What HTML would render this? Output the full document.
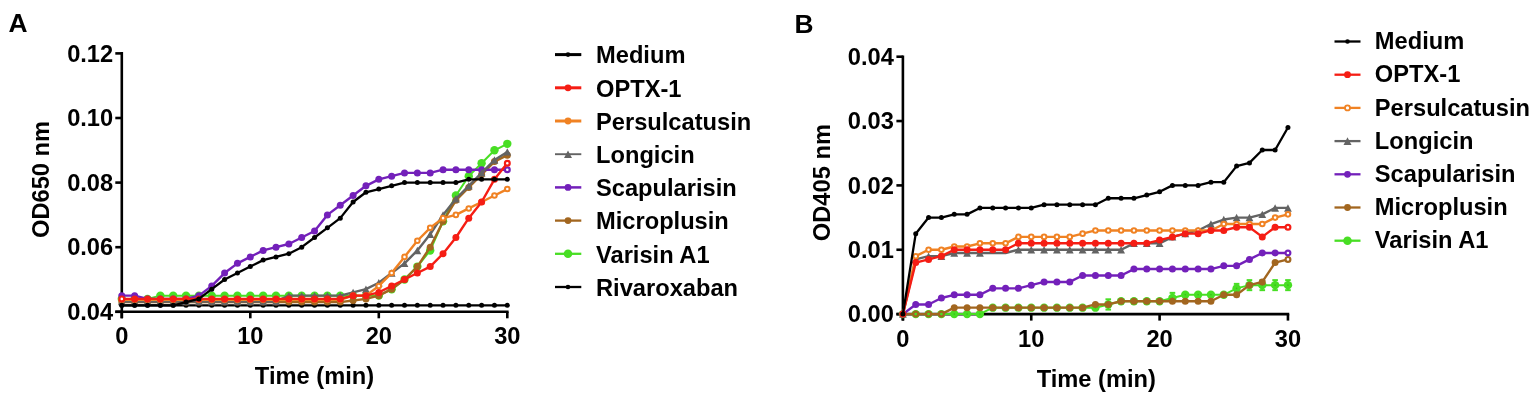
<!DOCTYPE html>
<html lang="en"><head><meta charset="utf-8"><title>Figure</title>
<style>html,body{margin:0;padding:0;background:#fff}svg{display:block}</style></head>
<body>
<svg width="1535" height="396" viewBox="0 0 1535 396" font-family='"Liberation Sans", sans-serif' font-weight="bold" fill="#000">
<rect width="1535" height="396" fill="#fff"/>
<text transform="translate(8.50,32.30) scale(1.03,1)" text-anchor="start" font-size="25.6" >A</text>
<text transform="translate(794.60,32.60) scale(1.03,1)" text-anchor="start" font-size="25.6" >B</text>
<line x1="121.80" y1="52.10" x2="121.80" y2="318.30" stroke="#000" stroke-width="2.6" stroke-linecap="butt"/>
<line x1="115.30" y1="311.80" x2="508.60" y2="311.80" stroke="#000" stroke-width="2.6" stroke-linecap="butt"/>
<line x1="115.30" y1="311.80" x2="121.80" y2="311.80" stroke="#000" stroke-width="2.6" stroke-linecap="butt"/>
<text transform="translate(113.20,320.00) scale(1.03,1)" text-anchor="end" font-size="23" >0.04</text>
<line x1="115.30" y1="247.20" x2="121.80" y2="247.20" stroke="#000" stroke-width="2.6" stroke-linecap="butt"/>
<text transform="translate(113.20,255.40) scale(1.03,1)" text-anchor="end" font-size="23" >0.06</text>
<line x1="115.30" y1="182.60" x2="121.80" y2="182.60" stroke="#000" stroke-width="2.6" stroke-linecap="butt"/>
<text transform="translate(113.20,190.80) scale(1.03,1)" text-anchor="end" font-size="23" >0.08</text>
<line x1="115.30" y1="118.00" x2="121.80" y2="118.00" stroke="#000" stroke-width="2.6" stroke-linecap="butt"/>
<text transform="translate(113.20,126.20) scale(1.03,1)" text-anchor="end" font-size="23" >0.10</text>
<line x1="115.30" y1="53.40" x2="121.80" y2="53.40" stroke="#000" stroke-width="2.6" stroke-linecap="butt"/>
<text transform="translate(113.20,61.60) scale(1.03,1)" text-anchor="end" font-size="23" >0.12</text>
<line x1="121.80" y1="311.80" x2="121.80" y2="318.30" stroke="#000" stroke-width="2.6" stroke-linecap="butt"/>
<text transform="translate(121.80,344.00) scale(1.03,1)" text-anchor="middle" font-size="23" >0</text>
<line x1="250.30" y1="311.80" x2="250.30" y2="318.30" stroke="#000" stroke-width="2.6" stroke-linecap="butt"/>
<text transform="translate(250.30,344.00) scale(1.03,1)" text-anchor="middle" font-size="23" >10</text>
<line x1="378.80" y1="311.80" x2="378.80" y2="318.30" stroke="#000" stroke-width="2.6" stroke-linecap="butt"/>
<text transform="translate(378.80,344.00) scale(1.03,1)" text-anchor="middle" font-size="23" >20</text>
<line x1="507.30" y1="311.80" x2="507.30" y2="318.30" stroke="#000" stroke-width="2.6" stroke-linecap="butt"/>
<text transform="translate(507.30,344.00) scale(1.03,1)" text-anchor="middle" font-size="23" >30</text>
<text transform="translate(314.50,383.60) scale(1.03,1)" text-anchor="middle" font-size="23" >Time (min)</text>
<text transform="translate(49.00,179.50) rotate(-90) scale(1.03,1)" text-anchor="middle" font-size="23">OD650 nm</text>
<polyline points="121.80,305.34 134.65,305.34 147.50,305.34 160.35,305.34 173.20,305.34 186.05,305.34 198.90,305.34 211.75,305.34 224.60,305.34 237.45,305.34 250.30,305.34 263.15,305.34 276.00,305.34 288.85,305.34 301.70,305.34 314.55,305.34 327.40,305.34 340.25,305.34 353.10,305.34 365.95,305.34 378.80,305.34 391.65,305.34 404.50,305.34 417.35,305.34 430.20,305.34 443.05,305.34 455.90,305.34 468.75,305.34 481.60,305.34 494.45,305.34 507.30,305.34" fill="none" stroke="#000000" stroke-width="2.3" stroke-linejoin="round" stroke-linecap="round"/>
<circle cx="121.80" cy="305.34" r="2.5" fill="#000000"/>
<circle cx="134.65" cy="305.34" r="2.5" fill="#000000"/>
<circle cx="147.50" cy="305.34" r="2.5" fill="#000000"/>
<circle cx="160.35" cy="305.34" r="2.5" fill="#000000"/>
<circle cx="173.20" cy="305.34" r="2.5" fill="#000000"/>
<circle cx="186.05" cy="305.34" r="2.5" fill="#000000"/>
<circle cx="198.90" cy="305.34" r="2.5" fill="#000000"/>
<circle cx="211.75" cy="305.34" r="2.5" fill="#000000"/>
<circle cx="224.60" cy="305.34" r="2.5" fill="#000000"/>
<circle cx="237.45" cy="305.34" r="2.5" fill="#000000"/>
<circle cx="250.30" cy="305.34" r="2.5" fill="#000000"/>
<circle cx="263.15" cy="305.34" r="2.5" fill="#000000"/>
<circle cx="276.00" cy="305.34" r="2.5" fill="#000000"/>
<circle cx="288.85" cy="305.34" r="2.5" fill="#000000"/>
<circle cx="301.70" cy="305.34" r="2.5" fill="#000000"/>
<circle cx="314.55" cy="305.34" r="2.5" fill="#000000"/>
<circle cx="327.40" cy="305.34" r="2.5" fill="#000000"/>
<circle cx="340.25" cy="305.34" r="2.5" fill="#000000"/>
<circle cx="353.10" cy="305.34" r="2.5" fill="#000000"/>
<circle cx="365.95" cy="305.34" r="2.5" fill="#000000"/>
<circle cx="378.80" cy="305.34" r="2.5" fill="#000000"/>
<circle cx="391.65" cy="305.34" r="2.5" fill="#000000"/>
<circle cx="404.50" cy="305.34" r="2.5" fill="#000000"/>
<circle cx="417.35" cy="305.34" r="2.5" fill="#000000"/>
<circle cx="430.20" cy="305.34" r="2.5" fill="#000000"/>
<circle cx="443.05" cy="305.34" r="2.5" fill="#000000"/>
<circle cx="455.90" cy="305.34" r="2.5" fill="#000000"/>
<circle cx="468.75" cy="305.34" r="2.5" fill="#000000"/>
<circle cx="481.60" cy="305.34" r="2.5" fill="#000000"/>
<circle cx="494.45" cy="305.34" r="2.5" fill="#000000"/>
<circle cx="507.30" cy="305.34" r="2.5" fill="#000000"/>
<polyline points="121.80,298.88 134.65,298.88 147.50,298.88 160.35,295.65 173.20,295.65 186.05,295.65 198.90,295.65 211.75,295.65 224.60,295.65 237.45,295.65 250.30,295.65 263.15,295.65 276.00,295.65 288.85,295.65 301.70,295.65 314.55,295.65 327.40,295.65 340.25,295.65 353.10,295.65 365.95,295.65 378.80,295.65 391.65,289.19 404.50,279.50 417.35,266.58 430.20,250.43 443.05,221.36 455.90,195.52 468.75,176.14 481.60,163.22 494.45,150.30 507.30,143.84" fill="none" stroke="#48de24" stroke-width="2.0" stroke-linejoin="round" stroke-linecap="round"/>
<circle cx="121.80" cy="298.88" r="4.2" fill="#48de24"/>
<circle cx="134.65" cy="298.88" r="4.2" fill="#48de24"/>
<circle cx="147.50" cy="298.88" r="4.2" fill="#48de24"/>
<circle cx="160.35" cy="295.65" r="4.2" fill="#48de24"/>
<circle cx="173.20" cy="295.65" r="4.2" fill="#48de24"/>
<circle cx="186.05" cy="295.65" r="4.2" fill="#48de24"/>
<circle cx="198.90" cy="295.65" r="4.2" fill="#48de24"/>
<circle cx="211.75" cy="295.65" r="4.2" fill="#48de24"/>
<circle cx="224.60" cy="295.65" r="4.2" fill="#48de24"/>
<circle cx="237.45" cy="295.65" r="4.2" fill="#48de24"/>
<circle cx="250.30" cy="295.65" r="4.2" fill="#48de24"/>
<circle cx="263.15" cy="295.65" r="4.2" fill="#48de24"/>
<circle cx="276.00" cy="295.65" r="4.2" fill="#48de24"/>
<circle cx="288.85" cy="295.65" r="4.2" fill="#48de24"/>
<circle cx="301.70" cy="295.65" r="4.2" fill="#48de24"/>
<circle cx="314.55" cy="295.65" r="4.2" fill="#48de24"/>
<circle cx="327.40" cy="295.65" r="4.2" fill="#48de24"/>
<circle cx="340.25" cy="295.65" r="4.2" fill="#48de24"/>
<circle cx="353.10" cy="295.65" r="4.2" fill="#48de24"/>
<circle cx="365.95" cy="295.65" r="4.2" fill="#48de24"/>
<circle cx="378.80" cy="295.65" r="4.2" fill="#48de24"/>
<circle cx="391.65" cy="289.19" r="4.2" fill="#48de24"/>
<circle cx="404.50" cy="279.50" r="4.2" fill="#48de24"/>
<circle cx="417.35" cy="266.58" r="4.2" fill="#48de24"/>
<circle cx="430.20" cy="250.43" r="4.2" fill="#48de24"/>
<circle cx="443.05" cy="221.36" r="4.2" fill="#48de24"/>
<circle cx="455.90" cy="195.52" r="4.2" fill="#48de24"/>
<circle cx="468.75" cy="176.14" r="4.2" fill="#48de24"/>
<circle cx="481.60" cy="163.22" r="4.2" fill="#48de24"/>
<circle cx="494.45" cy="150.30" r="4.2" fill="#48de24"/>
<circle cx="507.30" cy="143.84" r="4.2" fill="#48de24"/>
<polyline points="121.80,302.11 134.65,302.11 147.50,302.11 160.35,302.11 173.20,302.11 186.05,302.11 198.90,302.11 211.75,302.11 224.60,302.11 237.45,302.11 250.30,302.11 263.15,302.11 276.00,302.11 288.85,302.11 301.70,302.11 314.55,302.11 327.40,302.11 340.25,302.11 353.10,300.50 365.95,298.88 378.80,295.65 391.65,289.19 404.50,279.50 417.35,266.58 430.20,247.20 443.05,221.36 455.90,200.37 468.75,187.44 481.60,174.53 494.45,161.61 507.30,155.15" fill="none" stroke="#a2661f" stroke-width="2.4" stroke-linejoin="round" stroke-linecap="round"/>
<circle cx="121.80" cy="302.11" r="3.5" fill="#a2661f"/>
<circle cx="134.65" cy="302.11" r="3.5" fill="#a2661f"/>
<circle cx="147.50" cy="302.11" r="3.5" fill="#a2661f"/>
<circle cx="160.35" cy="302.11" r="3.5" fill="#a2661f"/>
<circle cx="173.20" cy="302.11" r="3.5" fill="#a2661f"/>
<circle cx="186.05" cy="302.11" r="3.5" fill="#a2661f"/>
<circle cx="198.90" cy="302.11" r="3.5" fill="#a2661f"/>
<circle cx="211.75" cy="302.11" r="3.5" fill="#a2661f"/>
<circle cx="224.60" cy="302.11" r="3.5" fill="#a2661f"/>
<circle cx="237.45" cy="302.11" r="3.5" fill="#a2661f"/>
<circle cx="250.30" cy="302.11" r="3.5" fill="#a2661f"/>
<circle cx="263.15" cy="302.11" r="3.5" fill="#a2661f"/>
<circle cx="276.00" cy="302.11" r="3.5" fill="#a2661f"/>
<circle cx="288.85" cy="302.11" r="3.5" fill="#a2661f"/>
<circle cx="301.70" cy="302.11" r="3.5" fill="#a2661f"/>
<circle cx="314.55" cy="302.11" r="3.5" fill="#a2661f"/>
<circle cx="327.40" cy="302.11" r="3.5" fill="#a2661f"/>
<circle cx="340.25" cy="302.11" r="3.5" fill="#a2661f"/>
<circle cx="353.10" cy="300.50" r="3.5" fill="#a2661f"/>
<circle cx="365.95" cy="298.88" r="3.5" fill="#a2661f"/>
<circle cx="378.80" cy="295.65" r="3.5" fill="#a2661f"/>
<circle cx="391.65" cy="289.19" r="3.5" fill="#a2661f"/>
<circle cx="404.50" cy="279.50" r="3.5" fill="#a2661f"/>
<circle cx="417.35" cy="266.58" r="3.5" fill="#a2661f"/>
<circle cx="430.20" cy="247.20" r="3.5" fill="#a2661f"/>
<circle cx="443.05" cy="221.36" r="3.5" fill="#a2661f"/>
<circle cx="455.90" cy="200.37" r="3.5" fill="#a2661f"/>
<circle cx="468.75" cy="187.44" r="3.5" fill="#a2661f"/>
<circle cx="481.60" cy="174.53" r="3.5" fill="#a2661f"/>
<circle cx="494.45" cy="161.61" r="3.5" fill="#a2661f"/>
<circle cx="507.30" cy="155.15" r="3.5" fill="#a2661f"/>
<polyline points="121.80,295.65 134.65,295.65 147.50,298.88 160.35,298.88 173.20,298.88 186.05,298.88 198.90,295.65 211.75,285.96 224.60,273.04 237.45,263.35 250.30,256.89 263.15,250.43 276.00,247.20 288.85,243.97 301.70,237.51 314.55,231.05 327.40,214.90 340.25,205.21 353.10,195.52 365.95,185.83 378.80,179.37 391.65,176.14 404.50,172.91 417.35,172.91 430.20,172.91 443.05,169.68 455.90,169.68 468.75,169.68 481.60,169.68 494.45,169.68 507.30,169.68" fill="none" stroke="#7320ba" stroke-width="2.4" stroke-linejoin="round" stroke-linecap="round"/>
<circle cx="121.80" cy="295.65" r="3.5" fill="#7320ba"/>
<circle cx="134.65" cy="295.65" r="3.5" fill="#7320ba"/>
<circle cx="147.50" cy="298.88" r="3.5" fill="#7320ba"/>
<circle cx="160.35" cy="298.88" r="3.5" fill="#7320ba"/>
<circle cx="173.20" cy="298.88" r="3.5" fill="#7320ba"/>
<circle cx="186.05" cy="298.88" r="3.5" fill="#7320ba"/>
<circle cx="198.90" cy="295.65" r="3.5" fill="#7320ba"/>
<circle cx="211.75" cy="285.96" r="3.5" fill="#7320ba"/>
<circle cx="224.60" cy="273.04" r="3.5" fill="#7320ba"/>
<circle cx="237.45" cy="263.35" r="3.5" fill="#7320ba"/>
<circle cx="250.30" cy="256.89" r="3.5" fill="#7320ba"/>
<circle cx="263.15" cy="250.43" r="3.5" fill="#7320ba"/>
<circle cx="276.00" cy="247.20" r="3.5" fill="#7320ba"/>
<circle cx="288.85" cy="243.97" r="3.5" fill="#7320ba"/>
<circle cx="301.70" cy="237.51" r="3.5" fill="#7320ba"/>
<circle cx="314.55" cy="231.05" r="3.5" fill="#7320ba"/>
<circle cx="327.40" cy="214.90" r="3.5" fill="#7320ba"/>
<circle cx="340.25" cy="205.21" r="3.5" fill="#7320ba"/>
<circle cx="353.10" cy="195.52" r="3.5" fill="#7320ba"/>
<circle cx="365.95" cy="185.83" r="3.5" fill="#7320ba"/>
<circle cx="378.80" cy="179.37" r="3.5" fill="#7320ba"/>
<circle cx="391.65" cy="176.14" r="3.5" fill="#7320ba"/>
<circle cx="404.50" cy="172.91" r="3.5" fill="#7320ba"/>
<circle cx="417.35" cy="172.91" r="3.5" fill="#7320ba"/>
<circle cx="430.20" cy="172.91" r="3.5" fill="#7320ba"/>
<circle cx="443.05" cy="169.68" r="3.5" fill="#7320ba"/>
<circle cx="455.90" cy="169.68" r="3.5" fill="#7320ba"/>
<circle cx="468.75" cy="169.68" r="3.5" fill="#7320ba"/>
<circle cx="481.60" cy="169.68" r="3.5" fill="#7320ba"/>
<circle cx="494.45" cy="169.68" r="3.5" fill="#7320ba"/>
<circle cx="507.30" cy="169.68" r="2.4" fill="#fff" stroke="#7320ba" stroke-width="2.2"/>
<polyline points="121.80,301.46 134.65,301.46 147.50,301.46 160.35,301.46 173.20,301.46 186.05,301.46 198.90,301.46 211.75,301.46 224.60,301.46 237.45,301.46 250.30,301.46 263.15,301.46 276.00,301.46 288.85,295.65 301.70,295.65 314.55,295.65 327.40,295.65 340.25,295.65 353.10,292.42 365.95,289.19 378.80,282.73 391.65,273.04 404.50,263.35 417.35,250.43 430.20,234.28 443.05,214.90 455.90,198.75 468.75,185.83 481.60,172.91 494.45,159.99 507.30,151.92" fill="none" stroke="#636363" stroke-width="2.4" stroke-linejoin="round" stroke-linecap="round"/>
<polygon points="117.90,305.17 125.70,305.17 121.80,297.76" fill="#636363"/>
<polygon points="130.75,305.17 138.55,305.17 134.65,297.76" fill="#636363"/>
<polygon points="143.60,305.17 151.40,305.17 147.50,297.76" fill="#636363"/>
<polygon points="156.45,305.17 164.25,305.17 160.35,297.76" fill="#636363"/>
<polygon points="169.30,305.17 177.10,305.17 173.20,297.76" fill="#636363"/>
<polygon points="182.15,305.17 189.95,305.17 186.05,297.76" fill="#636363"/>
<polygon points="195.00,305.17 202.80,305.17 198.90,297.76" fill="#636363"/>
<polygon points="207.85,305.17 215.65,305.17 211.75,297.76" fill="#636363"/>
<polygon points="220.70,305.17 228.50,305.17 224.60,297.76" fill="#636363"/>
<polygon points="233.55,305.17 241.35,305.17 237.45,297.76" fill="#636363"/>
<polygon points="246.40,305.17 254.20,305.17 250.30,297.76" fill="#636363"/>
<polygon points="259.25,305.17 267.05,305.17 263.15,297.76" fill="#636363"/>
<polygon points="272.10,305.17 279.90,305.17 276.00,297.76" fill="#636363"/>
<polygon points="284.95,299.36 292.75,299.36 288.85,291.95" fill="#636363"/>
<polygon points="297.80,299.36 305.60,299.36 301.70,291.95" fill="#636363"/>
<polygon points="310.65,299.36 318.45,299.36 314.55,291.95" fill="#636363"/>
<polygon points="323.50,299.36 331.30,299.36 327.40,291.95" fill="#636363"/>
<polygon points="336.35,299.36 344.15,299.36 340.25,291.95" fill="#636363"/>
<polygon points="349.20,296.12 357.00,296.12 353.10,288.72" fill="#636363"/>
<polygon points="362.05,292.89 369.85,292.89 365.95,285.49" fill="#636363"/>
<polygon points="374.90,286.44 382.70,286.44 378.80,279.03" fill="#636363"/>
<polygon points="387.75,276.75 395.55,276.75 391.65,269.34" fill="#636363"/>
<polygon points="400.60,267.06 408.40,267.06 404.50,259.65" fill="#636363"/>
<polygon points="413.45,254.14 421.25,254.14 417.35,246.72" fill="#636363"/>
<polygon points="426.30,237.99 434.10,237.99 430.20,230.58" fill="#636363"/>
<polygon points="439.15,218.60 446.95,218.60 443.05,211.19" fill="#636363"/>
<polygon points="452.00,202.46 459.80,202.46 455.90,195.05" fill="#636363"/>
<polygon points="464.85,189.54 472.65,189.54 468.75,182.12" fill="#636363"/>
<polygon points="477.70,176.62 485.50,176.62 481.60,169.20" fill="#636363"/>
<polygon points="490.55,163.70 498.35,163.70 494.45,156.29" fill="#636363"/>
<polygon points="503.40,155.62 511.20,155.62 507.30,148.21" fill="#636363"/>
<polyline points="121.80,299.85 134.65,299.85 147.50,299.85 160.35,299.85 173.20,299.85 186.05,299.85 198.90,299.85 211.75,299.85 224.60,299.85 237.45,299.85 250.30,299.85 263.15,299.85 276.00,299.85 288.85,299.85 301.70,299.85 314.55,299.85 327.40,299.85 340.25,299.85 353.10,295.65 365.95,295.65 378.80,285.96 391.65,273.04 404.50,256.89 417.35,240.74 430.20,227.82 443.05,218.13 455.90,214.90 468.75,208.44 481.60,201.98 494.45,195.52 507.30,189.06" fill="none" stroke="#f08223" stroke-width="2.4" stroke-linejoin="round" stroke-linecap="round"/>
<circle cx="121.80" cy="299.85" r="2.3" fill="#fff" stroke="#f08223" stroke-width="2.0"/>
<circle cx="134.65" cy="299.85" r="2.3" fill="#fff" stroke="#f08223" stroke-width="2.0"/>
<circle cx="147.50" cy="299.85" r="2.3" fill="#fff" stroke="#f08223" stroke-width="2.0"/>
<circle cx="160.35" cy="299.85" r="2.3" fill="#fff" stroke="#f08223" stroke-width="2.0"/>
<circle cx="173.20" cy="299.85" r="2.3" fill="#fff" stroke="#f08223" stroke-width="2.0"/>
<circle cx="186.05" cy="299.85" r="2.3" fill="#fff" stroke="#f08223" stroke-width="2.0"/>
<circle cx="198.90" cy="299.85" r="2.3" fill="#fff" stroke="#f08223" stroke-width="2.0"/>
<circle cx="211.75" cy="299.85" r="2.3" fill="#fff" stroke="#f08223" stroke-width="2.0"/>
<circle cx="224.60" cy="299.85" r="2.3" fill="#fff" stroke="#f08223" stroke-width="2.0"/>
<circle cx="237.45" cy="299.85" r="2.3" fill="#fff" stroke="#f08223" stroke-width="2.0"/>
<circle cx="250.30" cy="299.85" r="2.3" fill="#fff" stroke="#f08223" stroke-width="2.0"/>
<circle cx="263.15" cy="299.85" r="2.3" fill="#fff" stroke="#f08223" stroke-width="2.0"/>
<circle cx="276.00" cy="299.85" r="2.3" fill="#fff" stroke="#f08223" stroke-width="2.0"/>
<circle cx="288.85" cy="299.85" r="2.3" fill="#fff" stroke="#f08223" stroke-width="2.0"/>
<circle cx="301.70" cy="299.85" r="2.3" fill="#fff" stroke="#f08223" stroke-width="2.0"/>
<circle cx="314.55" cy="299.85" r="2.3" fill="#fff" stroke="#f08223" stroke-width="2.0"/>
<circle cx="327.40" cy="299.85" r="2.3" fill="#fff" stroke="#f08223" stroke-width="2.0"/>
<circle cx="340.25" cy="299.85" r="2.3" fill="#fff" stroke="#f08223" stroke-width="2.0"/>
<circle cx="353.10" cy="295.65" r="2.3" fill="#fff" stroke="#f08223" stroke-width="2.0"/>
<circle cx="365.95" cy="295.65" r="2.3" fill="#fff" stroke="#f08223" stroke-width="2.0"/>
<circle cx="378.80" cy="285.96" r="2.3" fill="#fff" stroke="#f08223" stroke-width="2.0"/>
<circle cx="391.65" cy="273.04" r="2.3" fill="#fff" stroke="#f08223" stroke-width="2.0"/>
<circle cx="404.50" cy="256.89" r="2.3" fill="#fff" stroke="#f08223" stroke-width="2.0"/>
<circle cx="417.35" cy="240.74" r="2.3" fill="#fff" stroke="#f08223" stroke-width="2.0"/>
<circle cx="430.20" cy="227.82" r="2.3" fill="#fff" stroke="#f08223" stroke-width="2.0"/>
<circle cx="443.05" cy="218.13" r="2.3" fill="#fff" stroke="#f08223" stroke-width="2.0"/>
<circle cx="455.90" cy="214.90" r="2.3" fill="#fff" stroke="#f08223" stroke-width="2.0"/>
<circle cx="468.75" cy="208.44" r="2.3" fill="#fff" stroke="#f08223" stroke-width="2.0"/>
<circle cx="481.60" cy="201.98" r="2.3" fill="#fff" stroke="#f08223" stroke-width="2.0"/>
<circle cx="494.45" cy="195.52" r="2.3" fill="#fff" stroke="#f08223" stroke-width="2.0"/>
<circle cx="507.30" cy="189.06" r="2.3" fill="#fff" stroke="#f08223" stroke-width="2.0"/>
<polyline points="121.80,298.88 134.65,298.88 147.50,298.88 160.35,298.88 173.20,298.88 186.05,298.88 198.90,298.88 211.75,298.88 224.60,298.88 237.45,298.88 250.30,298.88 263.15,298.88 276.00,298.88 288.85,298.88 301.70,298.88 314.55,298.88 327.40,298.88 340.25,298.88 353.10,295.65 365.95,295.65 378.80,292.42 391.65,285.96 404.50,279.50 417.35,273.04 430.20,266.58 443.05,253.66 455.90,237.51 468.75,218.13 481.60,201.98 494.45,179.37 507.30,163.22" fill="none" stroke="#f51d14" stroke-width="2.4" stroke-linejoin="round" stroke-linecap="round"/>
<circle cx="121.80" cy="298.88" r="2.4" fill="#fff" stroke="#f51d14" stroke-width="2.2"/>
<circle cx="134.65" cy="298.88" r="3.5" fill="#f51d14"/>
<circle cx="147.50" cy="298.88" r="3.5" fill="#f51d14"/>
<circle cx="160.35" cy="298.88" r="3.5" fill="#f51d14"/>
<circle cx="173.20" cy="298.88" r="3.5" fill="#f51d14"/>
<circle cx="186.05" cy="298.88" r="3.5" fill="#f51d14"/>
<circle cx="198.90" cy="298.88" r="3.5" fill="#f51d14"/>
<circle cx="211.75" cy="298.88" r="3.5" fill="#f51d14"/>
<circle cx="224.60" cy="298.88" r="3.5" fill="#f51d14"/>
<circle cx="237.45" cy="298.88" r="3.5" fill="#f51d14"/>
<circle cx="250.30" cy="298.88" r="3.5" fill="#f51d14"/>
<circle cx="263.15" cy="298.88" r="3.5" fill="#f51d14"/>
<circle cx="276.00" cy="298.88" r="3.5" fill="#f51d14"/>
<circle cx="288.85" cy="298.88" r="3.5" fill="#f51d14"/>
<circle cx="301.70" cy="298.88" r="3.5" fill="#f51d14"/>
<circle cx="314.55" cy="298.88" r="3.5" fill="#f51d14"/>
<circle cx="327.40" cy="298.88" r="3.5" fill="#f51d14"/>
<circle cx="340.25" cy="298.88" r="3.5" fill="#f51d14"/>
<circle cx="353.10" cy="295.65" r="3.5" fill="#f51d14"/>
<circle cx="365.95" cy="295.65" r="3.5" fill="#f51d14"/>
<circle cx="378.80" cy="292.42" r="3.5" fill="#f51d14"/>
<circle cx="391.65" cy="285.96" r="3.5" fill="#f51d14"/>
<circle cx="404.50" cy="279.50" r="3.5" fill="#f51d14"/>
<circle cx="417.35" cy="273.04" r="3.5" fill="#f51d14"/>
<circle cx="430.20" cy="266.58" r="3.5" fill="#f51d14"/>
<circle cx="443.05" cy="253.66" r="3.5" fill="#f51d14"/>
<circle cx="455.90" cy="237.51" r="3.5" fill="#f51d14"/>
<circle cx="468.75" cy="218.13" r="3.5" fill="#f51d14"/>
<circle cx="481.60" cy="201.98" r="3.5" fill="#f51d14"/>
<circle cx="494.45" cy="179.37" r="3.5" fill="#f51d14"/>
<circle cx="507.30" cy="163.22" r="2.4" fill="#fff" stroke="#f51d14" stroke-width="2.2"/>
<polyline points="121.80,305.34 134.65,305.34 147.50,305.34 160.35,305.34 173.20,305.34 186.05,302.11 198.90,298.88 211.75,289.19 224.60,279.50 237.45,273.04 250.30,266.58 263.15,260.12 276.00,256.89 288.85,253.66 301.70,247.20 314.55,237.51 327.40,227.82 340.25,218.13 353.10,201.98 365.95,192.29 378.80,189.06 391.65,185.83 404.50,182.60 417.35,182.60 430.20,182.60 443.05,182.60 455.90,182.60 468.75,179.37 481.60,179.37 494.45,179.37 507.30,179.37" fill="none" stroke="#000000" stroke-width="2.3" stroke-linejoin="round" stroke-linecap="round"/>
<circle cx="121.80" cy="305.34" r="2.5" fill="#000000"/>
<circle cx="134.65" cy="305.34" r="2.5" fill="#000000"/>
<circle cx="147.50" cy="305.34" r="2.5" fill="#000000"/>
<circle cx="160.35" cy="305.34" r="2.5" fill="#000000"/>
<circle cx="173.20" cy="305.34" r="2.5" fill="#000000"/>
<circle cx="186.05" cy="302.11" r="2.5" fill="#000000"/>
<circle cx="198.90" cy="298.88" r="2.5" fill="#000000"/>
<circle cx="211.75" cy="289.19" r="2.5" fill="#000000"/>
<circle cx="224.60" cy="279.50" r="2.5" fill="#000000"/>
<circle cx="237.45" cy="273.04" r="2.5" fill="#000000"/>
<circle cx="250.30" cy="266.58" r="2.5" fill="#000000"/>
<circle cx="263.15" cy="260.12" r="2.5" fill="#000000"/>
<circle cx="276.00" cy="256.89" r="2.5" fill="#000000"/>
<circle cx="288.85" cy="253.66" r="2.5" fill="#000000"/>
<circle cx="301.70" cy="247.20" r="2.5" fill="#000000"/>
<circle cx="314.55" cy="237.51" r="2.5" fill="#000000"/>
<circle cx="327.40" cy="227.82" r="2.5" fill="#000000"/>
<circle cx="340.25" cy="218.13" r="2.5" fill="#000000"/>
<circle cx="353.10" cy="201.98" r="2.5" fill="#000000"/>
<circle cx="365.95" cy="192.29" r="2.5" fill="#000000"/>
<circle cx="378.80" cy="189.06" r="2.5" fill="#000000"/>
<circle cx="391.65" cy="185.83" r="2.5" fill="#000000"/>
<circle cx="404.50" cy="182.60" r="2.5" fill="#000000"/>
<circle cx="417.35" cy="182.60" r="2.5" fill="#000000"/>
<circle cx="430.20" cy="182.60" r="2.5" fill="#000000"/>
<circle cx="443.05" cy="182.60" r="2.5" fill="#000000"/>
<circle cx="455.90" cy="182.60" r="2.5" fill="#000000"/>
<circle cx="468.75" cy="179.37" r="2.5" fill="#000000"/>
<circle cx="481.60" cy="179.37" r="2.5" fill="#000000"/>
<circle cx="494.45" cy="179.37" r="2.5" fill="#000000"/>
<circle cx="507.30" cy="179.37" r="2.5" fill="#000000"/>
<line x1="555.00" y1="54.60" x2="581.30" y2="54.60" stroke="#000000" stroke-width="3.0" stroke-linecap="butt"/>
<circle cx="568.00" cy="54.60" r="2.3" fill="#000000"/>
<text transform="translate(596.00,63.40) scale(1.03,1)" text-anchor="start" font-size="23" >Medium</text>
<line x1="555.00" y1="87.80" x2="581.30" y2="87.80" stroke="#f51d14" stroke-width="3.0" stroke-linecap="butt"/>
<circle cx="568.00" cy="87.80" r="3.4" fill="#f51d14"/>
<text transform="translate(596.00,96.60) scale(1.03,1)" text-anchor="start" font-size="23" >OPTX-1</text>
<line x1="555.00" y1="121.00" x2="581.30" y2="121.00" stroke="#f08223" stroke-width="3.0" stroke-linecap="butt"/>
<circle cx="568.00" cy="121.00" r="3.4" fill="#f08223"/>
<text transform="translate(596.00,129.80) scale(1.03,1)" text-anchor="start" font-size="23" >Persulcatusin</text>
<line x1="555.00" y1="154.20" x2="581.30" y2="154.20" stroke="#636363" stroke-width="1.9" stroke-linecap="butt"/>
<polygon points="564.00,158.00 572.00,158.00 568.00,150.40" fill="#636363"/>
<text transform="translate(596.00,163.00) scale(1.03,1)" text-anchor="start" font-size="23" >Longicin</text>
<line x1="555.00" y1="187.40" x2="581.30" y2="187.40" stroke="#7320ba" stroke-width="2.5" stroke-linecap="butt"/>
<circle cx="568.00" cy="187.40" r="3.4" fill="#7320ba"/>
<text transform="translate(596.00,196.20) scale(1.03,1)" text-anchor="start" font-size="23" >Scapularisin</text>
<line x1="555.00" y1="220.60" x2="581.30" y2="220.60" stroke="#a2661f" stroke-width="2.3" stroke-linecap="butt"/>
<circle cx="568.00" cy="220.60" r="3.4" fill="#a2661f"/>
<text transform="translate(596.00,229.40) scale(1.03,1)" text-anchor="start" font-size="23" >Microplusin</text>
<line x1="555.00" y1="253.80" x2="581.30" y2="253.80" stroke="#48de24" stroke-width="2.3" stroke-linecap="butt"/>
<circle cx="568.00" cy="253.80" r="4.3" fill="#48de24"/>
<text transform="translate(596.00,262.60) scale(1.03,1)" text-anchor="start" font-size="23" >Varisin A1</text>
<line x1="555.00" y1="287.00" x2="581.30" y2="287.00" stroke="#000000" stroke-width="2.3" stroke-linecap="butt"/>
<circle cx="568.00" cy="287.00" r="2.3" fill="#000000"/>
<text transform="translate(596.00,295.80) scale(1.03,1)" text-anchor="start" font-size="23" >Rivaroxaban</text>
<line x1="902.90" y1="55.40" x2="902.90" y2="320.60" stroke="#000" stroke-width="2.6" stroke-linecap="butt"/>
<line x1="896.40" y1="314.10" x2="1289.25" y2="314.10" stroke="#000" stroke-width="2.6" stroke-linecap="butt"/>
<line x1="896.40" y1="314.10" x2="902.90" y2="314.10" stroke="#000" stroke-width="2.6" stroke-linecap="butt"/>
<text transform="translate(893.80,322.30) scale(1.03,1)" text-anchor="end" font-size="23" >0.00</text>
<line x1="896.40" y1="249.75" x2="902.90" y2="249.75" stroke="#000" stroke-width="2.6" stroke-linecap="butt"/>
<text transform="translate(893.80,257.95) scale(1.03,1)" text-anchor="end" font-size="23" >0.01</text>
<line x1="896.40" y1="185.40" x2="902.90" y2="185.40" stroke="#000" stroke-width="2.6" stroke-linecap="butt"/>
<text transform="translate(893.80,193.60) scale(1.03,1)" text-anchor="end" font-size="23" >0.02</text>
<line x1="896.40" y1="121.05" x2="902.90" y2="121.05" stroke="#000" stroke-width="2.6" stroke-linecap="butt"/>
<text transform="translate(893.80,129.25) scale(1.03,1)" text-anchor="end" font-size="23" >0.03</text>
<line x1="896.40" y1="56.70" x2="902.90" y2="56.70" stroke="#000" stroke-width="2.6" stroke-linecap="butt"/>
<text transform="translate(893.80,64.90) scale(1.03,1)" text-anchor="end" font-size="23" >0.04</text>
<line x1="902.90" y1="314.10" x2="902.90" y2="320.60" stroke="#000" stroke-width="2.6" stroke-linecap="butt"/>
<text transform="translate(902.90,347.00) scale(1.03,1)" text-anchor="middle" font-size="23" >0</text>
<line x1="1031.25" y1="314.10" x2="1031.25" y2="320.60" stroke="#000" stroke-width="2.6" stroke-linecap="butt"/>
<text transform="translate(1031.25,347.00) scale(1.03,1)" text-anchor="middle" font-size="23" >10</text>
<line x1="1159.60" y1="314.10" x2="1159.60" y2="320.60" stroke="#000" stroke-width="2.6" stroke-linecap="butt"/>
<text transform="translate(1159.60,347.00) scale(1.03,1)" text-anchor="middle" font-size="23" >20</text>
<line x1="1287.95" y1="314.10" x2="1287.95" y2="320.60" stroke="#000" stroke-width="2.6" stroke-linecap="butt"/>
<text transform="translate(1287.95,347.00) scale(1.03,1)" text-anchor="middle" font-size="23" >30</text>
<text transform="translate(1096.30,387.20) scale(1.03,1)" text-anchor="middle" font-size="23" >Time (min)</text>
<text transform="translate(830.00,182.60) rotate(-90) scale(1.03,1)" text-anchor="middle" font-size="23">OD405 nm</text>
<line x1="1108.26" y1="299.30" x2="1108.26" y2="309.60" stroke="#48de24" stroke-width="2.0" stroke-linecap="butt"/>
<line x1="1105.46" y1="299.30" x2="1111.06" y2="299.30" stroke="#48de24" stroke-width="2.0" stroke-linecap="butt"/>
<line x1="1105.46" y1="309.60" x2="1111.06" y2="309.60" stroke="#48de24" stroke-width="2.0" stroke-linecap="butt"/>
<line x1="1172.43" y1="292.86" x2="1172.43" y2="301.23" stroke="#48de24" stroke-width="2.0" stroke-linecap="butt"/>
<line x1="1169.63" y1="292.86" x2="1175.23" y2="292.86" stroke="#48de24" stroke-width="2.0" stroke-linecap="butt"/>
<line x1="1169.63" y1="301.23" x2="1175.23" y2="301.23" stroke="#48de24" stroke-width="2.0" stroke-linecap="butt"/>
<line x1="1236.61" y1="283.86" x2="1236.61" y2="292.86" stroke="#48de24" stroke-width="2.0" stroke-linecap="butt"/>
<line x1="1233.81" y1="283.86" x2="1239.41" y2="283.86" stroke="#48de24" stroke-width="2.0" stroke-linecap="butt"/>
<line x1="1233.81" y1="292.86" x2="1239.41" y2="292.86" stroke="#48de24" stroke-width="2.0" stroke-linecap="butt"/>
<line x1="1249.44" y1="280.12" x2="1249.44" y2="290.16" stroke="#48de24" stroke-width="2.0" stroke-linecap="butt"/>
<line x1="1246.64" y1="280.12" x2="1252.24" y2="280.12" stroke="#48de24" stroke-width="2.0" stroke-linecap="butt"/>
<line x1="1246.64" y1="290.16" x2="1252.24" y2="290.16" stroke="#48de24" stroke-width="2.0" stroke-linecap="butt"/>
<line x1="1262.28" y1="280.12" x2="1262.28" y2="290.16" stroke="#48de24" stroke-width="2.0" stroke-linecap="butt"/>
<line x1="1259.48" y1="280.12" x2="1265.08" y2="280.12" stroke="#48de24" stroke-width="2.0" stroke-linecap="butt"/>
<line x1="1259.48" y1="290.16" x2="1265.08" y2="290.16" stroke="#48de24" stroke-width="2.0" stroke-linecap="butt"/>
<line x1="1275.12" y1="280.12" x2="1275.12" y2="290.16" stroke="#48de24" stroke-width="2.0" stroke-linecap="butt"/>
<line x1="1272.32" y1="280.12" x2="1277.91" y2="280.12" stroke="#48de24" stroke-width="2.0" stroke-linecap="butt"/>
<line x1="1272.32" y1="290.16" x2="1277.91" y2="290.16" stroke="#48de24" stroke-width="2.0" stroke-linecap="butt"/>
<line x1="1287.95" y1="280.12" x2="1287.95" y2="290.16" stroke="#48de24" stroke-width="2.0" stroke-linecap="butt"/>
<line x1="1285.15" y1="280.12" x2="1290.75" y2="280.12" stroke="#48de24" stroke-width="2.0" stroke-linecap="butt"/>
<line x1="1285.15" y1="290.16" x2="1290.75" y2="290.16" stroke="#48de24" stroke-width="2.0" stroke-linecap="butt"/>
<polyline points="902.90,314.10 915.74,314.10 928.57,314.10 941.40,314.10 954.24,314.10 967.08,314.10 979.91,314.10 992.75,307.67 1005.58,307.67 1018.41,307.67 1031.25,307.67 1044.09,307.67 1056.92,307.67 1069.76,307.67 1082.59,307.67 1095.42,307.67 1108.26,304.45 1121.10,301.23 1133.93,301.23 1146.76,301.23 1159.60,301.23 1172.43,298.01 1185.27,294.80 1198.11,294.80 1210.94,294.80 1223.78,294.80 1236.61,288.36 1249.44,285.14 1262.28,285.14 1275.12,285.14 1287.95,285.14" fill="none" stroke="#48de24" stroke-width="2.0" stroke-linejoin="round" stroke-linecap="round"/>
<circle cx="902.90" cy="314.10" r="4.2" fill="#48de24"/>
<circle cx="915.74" cy="314.10" r="4.2" fill="#48de24"/>
<circle cx="915.74" cy="314.10" r="0.8" fill="#3cbc18"/>
<circle cx="928.57" cy="314.10" r="4.2" fill="#48de24"/>
<circle cx="928.57" cy="314.10" r="0.8" fill="#3cbc18"/>
<circle cx="941.40" cy="314.10" r="4.2" fill="#48de24"/>
<circle cx="941.40" cy="314.10" r="0.8" fill="#3cbc18"/>
<circle cx="954.24" cy="314.10" r="4.2" fill="#48de24"/>
<circle cx="954.24" cy="314.10" r="0.8" fill="#3cbc18"/>
<circle cx="967.08" cy="314.10" r="4.2" fill="#48de24"/>
<circle cx="967.08" cy="314.10" r="0.8" fill="#3cbc18"/>
<circle cx="979.91" cy="314.10" r="4.2" fill="#48de24"/>
<circle cx="979.91" cy="314.10" r="0.8" fill="#3cbc18"/>
<circle cx="992.75" cy="307.67" r="4.2" fill="#48de24"/>
<circle cx="992.75" cy="307.67" r="0.8" fill="#3cbc18"/>
<circle cx="1005.58" cy="307.67" r="4.2" fill="#48de24"/>
<circle cx="1005.58" cy="307.67" r="0.8" fill="#3cbc18"/>
<circle cx="1018.41" cy="307.67" r="4.2" fill="#48de24"/>
<circle cx="1018.41" cy="307.67" r="0.8" fill="#3cbc18"/>
<circle cx="1031.25" cy="307.67" r="4.2" fill="#48de24"/>
<circle cx="1031.25" cy="307.67" r="0.8" fill="#3cbc18"/>
<circle cx="1044.09" cy="307.67" r="4.2" fill="#48de24"/>
<circle cx="1044.09" cy="307.67" r="0.8" fill="#3cbc18"/>
<circle cx="1056.92" cy="307.67" r="4.2" fill="#48de24"/>
<circle cx="1056.92" cy="307.67" r="0.8" fill="#3cbc18"/>
<circle cx="1069.76" cy="307.67" r="4.2" fill="#48de24"/>
<circle cx="1069.76" cy="307.67" r="0.8" fill="#3cbc18"/>
<circle cx="1082.59" cy="307.67" r="4.2" fill="#48de24"/>
<circle cx="1082.59" cy="307.67" r="0.8" fill="#3cbc18"/>
<circle cx="1095.42" cy="307.67" r="4.2" fill="#48de24"/>
<circle cx="1095.42" cy="307.67" r="0.8" fill="#3cbc18"/>
<circle cx="1108.26" cy="304.45" r="4.2" fill="#48de24"/>
<circle cx="1108.26" cy="304.45" r="0.8" fill="#3cbc18"/>
<circle cx="1121.10" cy="301.23" r="4.2" fill="#48de24"/>
<circle cx="1121.10" cy="301.23" r="0.8" fill="#3cbc18"/>
<circle cx="1133.93" cy="301.23" r="4.2" fill="#48de24"/>
<circle cx="1133.93" cy="301.23" r="0.8" fill="#3cbc18"/>
<circle cx="1146.76" cy="301.23" r="4.2" fill="#48de24"/>
<circle cx="1146.76" cy="301.23" r="0.8" fill="#3cbc18"/>
<circle cx="1159.60" cy="301.23" r="4.2" fill="#48de24"/>
<circle cx="1159.60" cy="301.23" r="0.8" fill="#3cbc18"/>
<circle cx="1172.43" cy="298.01" r="4.2" fill="#48de24"/>
<circle cx="1172.43" cy="298.01" r="0.8" fill="#3cbc18"/>
<circle cx="1185.27" cy="294.80" r="4.2" fill="#48de24"/>
<circle cx="1185.27" cy="294.80" r="0.8" fill="#3cbc18"/>
<circle cx="1198.11" cy="294.80" r="4.2" fill="#48de24"/>
<circle cx="1198.11" cy="294.80" r="0.8" fill="#3cbc18"/>
<circle cx="1210.94" cy="294.80" r="4.2" fill="#48de24"/>
<circle cx="1210.94" cy="294.80" r="0.8" fill="#3cbc18"/>
<circle cx="1223.78" cy="294.80" r="4.2" fill="#48de24"/>
<circle cx="1223.78" cy="294.80" r="0.8" fill="#3cbc18"/>
<circle cx="1236.61" cy="288.36" r="4.2" fill="#48de24"/>
<circle cx="1236.61" cy="288.36" r="0.8" fill="#3cbc18"/>
<circle cx="1249.44" cy="285.14" r="4.2" fill="#48de24"/>
<circle cx="1249.44" cy="285.14" r="0.8" fill="#3cbc18"/>
<circle cx="1262.28" cy="285.14" r="4.2" fill="#48de24"/>
<circle cx="1262.28" cy="285.14" r="0.8" fill="#3cbc18"/>
<circle cx="1275.12" cy="285.14" r="4.2" fill="#48de24"/>
<circle cx="1275.12" cy="285.14" r="0.8" fill="#3cbc18"/>
<circle cx="1287.95" cy="285.14" r="4.2" fill="#48de24"/>
<circle cx="1287.95" cy="285.14" r="0.8" fill="#3cbc18"/>
<polyline points="902.90,314.10 915.74,314.10 928.57,314.10 941.40,314.10 954.24,307.67 967.08,307.67 979.91,307.67 992.75,307.67 1005.58,307.67 1018.41,307.67 1031.25,307.67 1044.09,307.67 1056.92,307.67 1069.76,307.67 1082.59,307.67 1095.42,304.45 1108.26,304.45 1121.10,301.23 1133.93,301.23 1146.76,301.23 1159.60,301.23 1172.43,301.23 1185.27,301.23 1198.11,301.23 1210.94,301.23 1223.78,294.80 1236.61,294.80 1249.44,285.14 1262.28,281.93 1275.12,262.62 1287.95,259.40" fill="none" stroke="#a2661f" stroke-width="2.4" stroke-linejoin="round" stroke-linecap="round"/>
<circle cx="902.90" cy="314.10" r="3.5" fill="#a2661f"/>
<circle cx="915.74" cy="314.10" r="3.5" fill="#a2661f"/>
<circle cx="915.74" cy="314.10" r="1.4" fill="#48de24"/>
<circle cx="928.57" cy="314.10" r="3.5" fill="#a2661f"/>
<circle cx="928.57" cy="314.10" r="1.4" fill="#48de24"/>
<circle cx="941.40" cy="314.10" r="3.5" fill="#a2661f"/>
<circle cx="941.40" cy="314.10" r="1.4" fill="#48de24"/>
<circle cx="954.24" cy="307.67" r="3.5" fill="#a2661f"/>
<circle cx="967.08" cy="307.67" r="3.5" fill="#a2661f"/>
<circle cx="979.91" cy="307.67" r="3.5" fill="#a2661f"/>
<circle cx="992.75" cy="307.67" r="3.5" fill="#a2661f"/>
<circle cx="1005.58" cy="307.67" r="3.5" fill="#a2661f"/>
<circle cx="1018.41" cy="307.67" r="3.5" fill="#a2661f"/>
<circle cx="1031.25" cy="307.67" r="3.5" fill="#a2661f"/>
<circle cx="1044.09" cy="307.67" r="3.5" fill="#a2661f"/>
<circle cx="1056.92" cy="307.67" r="3.5" fill="#a2661f"/>
<circle cx="1069.76" cy="307.67" r="3.5" fill="#a2661f"/>
<circle cx="1082.59" cy="307.67" r="3.5" fill="#a2661f"/>
<circle cx="1095.42" cy="304.45" r="3.5" fill="#a2661f"/>
<circle cx="1108.26" cy="304.45" r="3.5" fill="#a2661f"/>
<circle cx="1121.10" cy="301.23" r="3.5" fill="#a2661f"/>
<circle cx="1133.93" cy="301.23" r="3.5" fill="#a2661f"/>
<circle cx="1146.76" cy="301.23" r="3.5" fill="#a2661f"/>
<circle cx="1159.60" cy="301.23" r="3.5" fill="#a2661f"/>
<circle cx="1172.43" cy="301.23" r="3.5" fill="#a2661f"/>
<circle cx="1185.27" cy="301.23" r="3.5" fill="#a2661f"/>
<circle cx="1198.11" cy="301.23" r="3.5" fill="#a2661f"/>
<circle cx="1210.94" cy="301.23" r="3.5" fill="#a2661f"/>
<circle cx="1223.78" cy="294.80" r="3.5" fill="#a2661f"/>
<circle cx="1236.61" cy="294.80" r="3.5" fill="#a2661f"/>
<circle cx="1249.44" cy="285.14" r="3.5" fill="#a2661f"/>
<circle cx="1262.28" cy="281.93" r="3.5" fill="#a2661f"/>
<circle cx="1275.12" cy="262.62" r="3.5" fill="#a2661f"/>
<circle cx="1287.95" cy="259.40" r="2.4" fill="#fff" stroke="#a2661f" stroke-width="2.2"/>
<polyline points="902.90,314.10 915.74,304.45 928.57,304.45 941.40,298.01 954.24,294.80 967.08,294.80 979.91,294.80 992.75,288.36 1005.58,288.36 1018.41,288.36 1031.25,285.14 1044.09,281.93 1056.92,281.93 1069.76,281.93 1082.59,275.49 1095.42,275.49 1108.26,275.49 1121.10,275.49 1133.93,269.06 1146.76,269.06 1159.60,269.06 1172.43,269.06 1185.27,269.06 1198.11,269.06 1210.94,269.06 1223.78,265.84 1236.61,265.84 1249.44,259.40 1262.28,252.97 1275.12,252.97 1287.95,252.97" fill="none" stroke="#7320ba" stroke-width="2.4" stroke-linejoin="round" stroke-linecap="round"/>
<circle cx="902.90" cy="314.10" r="3.5" fill="#7320ba"/>
<circle cx="915.74" cy="304.45" r="3.5" fill="#7320ba"/>
<circle cx="928.57" cy="304.45" r="3.5" fill="#7320ba"/>
<circle cx="941.40" cy="298.01" r="3.5" fill="#7320ba"/>
<circle cx="954.24" cy="294.80" r="3.5" fill="#7320ba"/>
<circle cx="967.08" cy="294.80" r="3.5" fill="#7320ba"/>
<circle cx="979.91" cy="294.80" r="3.5" fill="#7320ba"/>
<circle cx="992.75" cy="288.36" r="3.5" fill="#7320ba"/>
<circle cx="1005.58" cy="288.36" r="3.5" fill="#7320ba"/>
<circle cx="1018.41" cy="288.36" r="3.5" fill="#7320ba"/>
<circle cx="1031.25" cy="285.14" r="3.5" fill="#7320ba"/>
<circle cx="1044.09" cy="281.93" r="3.5" fill="#7320ba"/>
<circle cx="1056.92" cy="281.93" r="3.5" fill="#7320ba"/>
<circle cx="1069.76" cy="281.93" r="3.5" fill="#7320ba"/>
<circle cx="1082.59" cy="275.49" r="3.5" fill="#7320ba"/>
<circle cx="1095.42" cy="275.49" r="3.5" fill="#7320ba"/>
<circle cx="1108.26" cy="275.49" r="3.5" fill="#7320ba"/>
<circle cx="1121.10" cy="275.49" r="3.5" fill="#7320ba"/>
<circle cx="1133.93" cy="269.06" r="3.5" fill="#7320ba"/>
<circle cx="1146.76" cy="269.06" r="3.5" fill="#7320ba"/>
<circle cx="1159.60" cy="269.06" r="3.5" fill="#7320ba"/>
<circle cx="1172.43" cy="269.06" r="3.5" fill="#7320ba"/>
<circle cx="1185.27" cy="269.06" r="3.5" fill="#7320ba"/>
<circle cx="1198.11" cy="269.06" r="3.5" fill="#7320ba"/>
<circle cx="1210.94" cy="269.06" r="3.5" fill="#7320ba"/>
<circle cx="1223.78" cy="265.84" r="3.5" fill="#7320ba"/>
<circle cx="1236.61" cy="265.84" r="3.5" fill="#7320ba"/>
<circle cx="1249.44" cy="259.40" r="3.5" fill="#7320ba"/>
<circle cx="1262.28" cy="252.97" r="3.5" fill="#7320ba"/>
<circle cx="1275.12" cy="252.97" r="3.5" fill="#7320ba"/>
<circle cx="1287.95" cy="252.97" r="2.4" fill="#fff" stroke="#7320ba" stroke-width="2.2"/>
<polyline points="902.90,314.10 915.74,259.40 928.57,256.19 941.40,256.19 954.24,252.97 967.08,252.97 979.91,252.97 992.75,252.97 1005.58,252.97 1018.41,249.75 1031.25,249.75 1044.09,249.75 1056.92,249.75 1069.76,249.75 1082.59,249.75 1095.42,249.75 1108.26,249.75 1121.10,249.75 1133.93,243.32 1146.76,243.32 1159.60,243.32 1172.43,236.88 1185.27,233.66 1198.11,230.45 1210.94,224.01 1223.78,219.51 1236.61,217.58 1249.44,217.58 1262.28,214.36 1275.12,207.92 1287.95,207.92" fill="none" stroke="#636363" stroke-width="2.4" stroke-linejoin="round" stroke-linecap="round"/>
<polygon points="899.00,317.81 906.80,317.81 902.90,310.40" fill="#636363"/>
<polygon points="911.84,263.11 919.63,263.11 915.74,255.70" fill="#636363"/>
<polygon points="924.67,259.89 932.47,259.89 928.57,252.48" fill="#636363"/>
<polygon points="937.50,259.89 945.30,259.89 941.40,252.48" fill="#636363"/>
<polygon points="950.34,256.67 958.14,256.67 954.24,249.26" fill="#636363"/>
<polygon points="963.18,256.67 970.98,256.67 967.08,249.26" fill="#636363"/>
<polygon points="976.01,256.67 983.81,256.67 979.91,249.26" fill="#636363"/>
<polygon points="1014.51,253.46 1022.31,253.46 1018.41,246.05" fill="#636363"/>
<polygon points="1027.35,253.46 1035.15,253.46 1031.25,246.05" fill="#636363"/>
<polygon points="1040.18,253.46 1047.99,253.46 1044.09,246.05" fill="#636363"/>
<polygon points="1053.02,253.46 1060.82,253.46 1056.92,246.05" fill="#636363"/>
<polygon points="1065.86,253.46 1073.66,253.46 1069.76,246.05" fill="#636363"/>
<polygon points="1078.69,253.46 1086.49,253.46 1082.59,246.05" fill="#636363"/>
<polygon points="1091.52,253.46 1099.33,253.46 1095.42,246.05" fill="#636363"/>
<polygon points="1104.36,253.46 1112.16,253.46 1108.26,246.05" fill="#636363"/>
<polygon points="1117.19,253.46 1125.00,253.46 1121.10,246.05" fill="#636363"/>
<polygon points="1130.03,247.02 1137.83,247.02 1133.93,239.61" fill="#636363"/>
<polygon points="1142.86,247.02 1150.66,247.02 1146.76,239.61" fill="#636363"/>
<polygon points="1155.70,247.02 1163.50,247.02 1159.60,239.61" fill="#636363"/>
<polygon points="1168.53,240.59 1176.34,240.59 1172.43,233.18" fill="#636363"/>
<polygon points="1181.37,237.37 1189.17,237.37 1185.27,229.96" fill="#636363"/>
<polygon points="1194.20,234.15 1202.01,234.15 1198.11,226.74" fill="#636363"/>
<polygon points="1207.04,227.72 1214.84,227.72 1210.94,220.31" fill="#636363"/>
<polygon points="1219.88,223.21 1227.68,223.21 1223.78,215.80" fill="#636363"/>
<polygon points="1232.71,221.28 1240.51,221.28 1236.61,213.87" fill="#636363"/>
<polygon points="1245.54,221.28 1253.35,221.28 1249.44,213.87" fill="#636363"/>
<polygon points="1258.38,218.06 1266.18,218.06 1262.28,210.65" fill="#636363"/>
<polygon points="1271.21,211.63 1279.02,211.63 1275.12,204.22" fill="#636363"/>
<polygon points="1284.05,211.63 1291.85,211.63 1287.95,204.22" fill="#636363"/>
<polyline points="902.90,314.10 915.74,256.19 928.57,249.75 941.40,249.75 954.24,246.53 967.08,246.53 979.91,243.32 992.75,243.32 1005.58,243.32 1018.41,236.88 1031.25,236.88 1044.09,236.88 1056.92,236.88 1069.76,236.88 1082.59,233.66 1095.42,230.45 1108.26,230.45 1121.10,230.45 1133.93,230.45 1146.76,230.45 1159.60,230.45 1172.43,230.45 1185.27,230.45 1198.11,230.45 1210.94,230.45 1223.78,224.01 1236.61,224.01 1249.44,224.01 1262.28,224.01 1275.12,217.58 1287.95,214.36" fill="none" stroke="#f08223" stroke-width="2.4" stroke-linejoin="round" stroke-linecap="round"/>
<circle cx="902.90" cy="314.10" r="2.3" fill="#fff" stroke="#f08223" stroke-width="2.0"/>
<circle cx="915.74" cy="256.19" r="2.3" fill="#fff" stroke="#f08223" stroke-width="2.0"/>
<circle cx="928.57" cy="249.75" r="2.3" fill="#fff" stroke="#f08223" stroke-width="2.0"/>
<circle cx="941.40" cy="249.75" r="2.3" fill="#fff" stroke="#f08223" stroke-width="2.0"/>
<circle cx="954.24" cy="246.53" r="2.3" fill="#fff" stroke="#f08223" stroke-width="2.0"/>
<circle cx="967.08" cy="246.53" r="2.3" fill="#fff" stroke="#f08223" stroke-width="2.0"/>
<circle cx="979.91" cy="243.32" r="2.3" fill="#fff" stroke="#f08223" stroke-width="2.0"/>
<circle cx="992.75" cy="243.32" r="2.3" fill="#fff" stroke="#f08223" stroke-width="2.0"/>
<circle cx="1005.58" cy="243.32" r="2.3" fill="#fff" stroke="#f08223" stroke-width="2.0"/>
<circle cx="1018.41" cy="236.88" r="2.3" fill="#fff" stroke="#f08223" stroke-width="2.0"/>
<circle cx="1031.25" cy="236.88" r="2.3" fill="#fff" stroke="#f08223" stroke-width="2.0"/>
<circle cx="1044.09" cy="236.88" r="2.3" fill="#fff" stroke="#f08223" stroke-width="2.0"/>
<circle cx="1056.92" cy="236.88" r="2.3" fill="#fff" stroke="#f08223" stroke-width="2.0"/>
<circle cx="1069.76" cy="236.88" r="2.3" fill="#fff" stroke="#f08223" stroke-width="2.0"/>
<circle cx="1082.59" cy="233.66" r="2.3" fill="#fff" stroke="#f08223" stroke-width="2.0"/>
<circle cx="1095.42" cy="230.45" r="2.3" fill="#fff" stroke="#f08223" stroke-width="2.0"/>
<circle cx="1108.26" cy="230.45" r="2.3" fill="#fff" stroke="#f08223" stroke-width="2.0"/>
<circle cx="1121.10" cy="230.45" r="2.3" fill="#fff" stroke="#f08223" stroke-width="2.0"/>
<circle cx="1133.93" cy="230.45" r="2.3" fill="#fff" stroke="#f08223" stroke-width="2.0"/>
<circle cx="1146.76" cy="230.45" r="2.3" fill="#fff" stroke="#f08223" stroke-width="2.0"/>
<circle cx="1159.60" cy="230.45" r="2.3" fill="#fff" stroke="#f08223" stroke-width="2.0"/>
<circle cx="1172.43" cy="230.45" r="2.3" fill="#fff" stroke="#f08223" stroke-width="2.0"/>
<circle cx="1185.27" cy="230.45" r="2.3" fill="#fff" stroke="#f08223" stroke-width="2.0"/>
<circle cx="1198.11" cy="230.45" r="2.3" fill="#fff" stroke="#f08223" stroke-width="2.0"/>
<circle cx="1210.94" cy="230.45" r="2.3" fill="#fff" stroke="#f08223" stroke-width="2.0"/>
<circle cx="1223.78" cy="224.01" r="2.3" fill="#fff" stroke="#f08223" stroke-width="2.0"/>
<circle cx="1236.61" cy="224.01" r="2.3" fill="#fff" stroke="#f08223" stroke-width="2.0"/>
<circle cx="1249.44" cy="224.01" r="2.3" fill="#fff" stroke="#f08223" stroke-width="2.0"/>
<circle cx="1262.28" cy="224.01" r="2.3" fill="#fff" stroke="#f08223" stroke-width="2.0"/>
<circle cx="1275.12" cy="217.58" r="2.3" fill="#fff" stroke="#f08223" stroke-width="2.0"/>
<circle cx="1287.95" cy="214.36" r="2.3" fill="#fff" stroke="#f08223" stroke-width="2.0"/>
<polyline points="902.90,314.10 915.74,262.62 928.57,259.40 941.40,256.19 954.24,249.75 967.08,249.75 979.91,249.75 992.75,249.75 1005.58,249.75 1018.41,243.32 1031.25,243.32 1044.09,243.32 1056.92,243.32 1069.76,243.32 1082.59,243.32 1095.42,243.32 1108.26,243.32 1121.10,243.32 1133.93,243.32 1146.76,243.32 1159.60,240.10 1172.43,236.88 1185.27,233.66 1198.11,233.66 1210.94,230.45 1223.78,230.45 1236.61,227.23 1249.44,227.23 1262.28,236.88 1275.12,227.23 1287.95,227.23" fill="none" stroke="#f51d14" stroke-width="2.4" stroke-linejoin="round" stroke-linecap="round"/>
<circle cx="902.90" cy="314.10" r="3.5" fill="#f51d14"/>
<circle cx="915.74" cy="262.62" r="3.5" fill="#f51d14"/>
<circle cx="928.57" cy="259.40" r="3.5" fill="#f51d14"/>
<circle cx="941.40" cy="256.19" r="3.5" fill="#f51d14"/>
<circle cx="954.24" cy="249.75" r="3.5" fill="#f51d14"/>
<circle cx="967.08" cy="249.75" r="3.5" fill="#f51d14"/>
<circle cx="979.91" cy="249.75" r="3.5" fill="#f51d14"/>
<circle cx="992.75" cy="249.75" r="3.5" fill="#f51d14"/>
<circle cx="1005.58" cy="249.75" r="3.5" fill="#f51d14"/>
<circle cx="1018.41" cy="243.32" r="3.5" fill="#f51d14"/>
<circle cx="1031.25" cy="243.32" r="3.5" fill="#f51d14"/>
<circle cx="1044.09" cy="243.32" r="3.5" fill="#f51d14"/>
<circle cx="1056.92" cy="243.32" r="3.5" fill="#f51d14"/>
<circle cx="1069.76" cy="243.32" r="3.5" fill="#f51d14"/>
<circle cx="1082.59" cy="243.32" r="3.5" fill="#f51d14"/>
<circle cx="1095.42" cy="243.32" r="3.5" fill="#f51d14"/>
<circle cx="1108.26" cy="243.32" r="3.5" fill="#f51d14"/>
<circle cx="1121.10" cy="243.32" r="3.5" fill="#f51d14"/>
<circle cx="1133.93" cy="243.32" r="3.5" fill="#f51d14"/>
<circle cx="1146.76" cy="243.32" r="3.5" fill="#f51d14"/>
<circle cx="1159.60" cy="240.10" r="3.5" fill="#f51d14"/>
<circle cx="1172.43" cy="236.88" r="3.5" fill="#f51d14"/>
<circle cx="1185.27" cy="233.66" r="3.5" fill="#f51d14"/>
<circle cx="1198.11" cy="233.66" r="3.5" fill="#f51d14"/>
<circle cx="1210.94" cy="230.45" r="3.5" fill="#f51d14"/>
<circle cx="1223.78" cy="230.45" r="3.5" fill="#f51d14"/>
<circle cx="1236.61" cy="227.23" r="3.5" fill="#f51d14"/>
<circle cx="1249.44" cy="227.23" r="3.5" fill="#f51d14"/>
<circle cx="1262.28" cy="236.88" r="3.5" fill="#f51d14"/>
<circle cx="1275.12" cy="227.23" r="3.5" fill="#f51d14"/>
<circle cx="1287.95" cy="227.23" r="2.4" fill="#fff" stroke="#f51d14" stroke-width="2.2"/>
<polyline points="902.90,314.10 915.74,233.66 928.57,217.58 941.40,217.58 954.24,214.36 967.08,214.36 979.91,207.92 992.75,207.92 1005.58,207.92 1018.41,207.92 1031.25,207.92 1044.09,204.71 1056.92,204.71 1069.76,204.71 1082.59,204.71 1095.42,204.71 1108.26,198.27 1121.10,198.27 1133.93,198.27 1146.76,195.05 1159.60,191.84 1172.43,185.40 1185.27,185.40 1198.11,185.40 1210.94,182.18 1223.78,182.18 1236.61,166.10 1249.44,162.88 1262.28,150.01 1275.12,150.01 1287.95,127.49" fill="none" stroke="#000000" stroke-width="2.3" stroke-linejoin="round" stroke-linecap="round"/>
<circle cx="902.90" cy="314.10" r="2.5" fill="#000000"/>
<circle cx="915.74" cy="233.66" r="2.5" fill="#000000"/>
<circle cx="928.57" cy="217.58" r="2.5" fill="#000000"/>
<circle cx="941.40" cy="217.58" r="2.5" fill="#000000"/>
<circle cx="954.24" cy="214.36" r="2.5" fill="#000000"/>
<circle cx="967.08" cy="214.36" r="2.5" fill="#000000"/>
<circle cx="979.91" cy="207.92" r="2.5" fill="#000000"/>
<circle cx="992.75" cy="207.92" r="2.5" fill="#000000"/>
<circle cx="1005.58" cy="207.92" r="2.5" fill="#000000"/>
<circle cx="1018.41" cy="207.92" r="2.5" fill="#000000"/>
<circle cx="1031.25" cy="207.92" r="2.5" fill="#000000"/>
<circle cx="1044.09" cy="204.71" r="2.5" fill="#000000"/>
<circle cx="1056.92" cy="204.71" r="2.5" fill="#000000"/>
<circle cx="1069.76" cy="204.71" r="2.5" fill="#000000"/>
<circle cx="1082.59" cy="204.71" r="2.5" fill="#000000"/>
<circle cx="1095.42" cy="204.71" r="2.5" fill="#000000"/>
<circle cx="1108.26" cy="198.27" r="2.5" fill="#000000"/>
<circle cx="1121.10" cy="198.27" r="2.5" fill="#000000"/>
<circle cx="1133.93" cy="198.27" r="2.5" fill="#000000"/>
<circle cx="1146.76" cy="195.05" r="2.5" fill="#000000"/>
<circle cx="1159.60" cy="191.84" r="2.5" fill="#000000"/>
<circle cx="1172.43" cy="185.40" r="2.5" fill="#000000"/>
<circle cx="1185.27" cy="185.40" r="2.5" fill="#000000"/>
<circle cx="1198.11" cy="185.40" r="2.5" fill="#000000"/>
<circle cx="1210.94" cy="182.18" r="2.5" fill="#000000"/>
<circle cx="1223.78" cy="182.18" r="2.5" fill="#000000"/>
<circle cx="1236.61" cy="166.10" r="2.5" fill="#000000"/>
<circle cx="1249.44" cy="162.88" r="2.5" fill="#000000"/>
<circle cx="1262.28" cy="150.01" r="2.5" fill="#000000"/>
<circle cx="1275.12" cy="150.01" r="2.5" fill="#000000"/>
<circle cx="1287.95" cy="127.49" r="2.5" fill="#000000"/>
<line x1="1334.50" y1="41.50" x2="1360.50" y2="41.50" stroke="#000000" stroke-width="2.3" stroke-linecap="butt"/>
<circle cx="1347.50" cy="41.50" r="2.3" fill="#000000"/>
<text transform="translate(1374.80,49.20) scale(1.03,1)" text-anchor="start" font-size="23" >Medium</text>
<line x1="1334.50" y1="74.70" x2="1360.50" y2="74.70" stroke="#f51d14" stroke-width="2.3" stroke-linecap="butt"/>
<circle cx="1347.50" cy="74.70" r="3.4" fill="#f51d14"/>
<text transform="translate(1374.80,82.40) scale(1.03,1)" text-anchor="start" font-size="23" >OPTX-1</text>
<line x1="1334.50" y1="107.90" x2="1360.50" y2="107.90" stroke="#f08223" stroke-width="2.3" stroke-linecap="butt"/>
<circle cx="1347.50" cy="107.90" r="2.5" fill="#fff" stroke="#f08223" stroke-width="1.8"/>
<text transform="translate(1374.80,115.60) scale(1.03,1)" text-anchor="start" font-size="23" >Persulcatusin</text>
<line x1="1334.50" y1="141.10" x2="1360.50" y2="141.10" stroke="#636363" stroke-width="2.3" stroke-linecap="butt"/>
<polygon points="1343.50,144.90 1351.50,144.90 1347.50,137.30" fill="#636363"/>
<text transform="translate(1374.80,148.80) scale(1.03,1)" text-anchor="start" font-size="23" >Longicin</text>
<line x1="1334.50" y1="174.30" x2="1360.50" y2="174.30" stroke="#7320ba" stroke-width="2.3" stroke-linecap="butt"/>
<circle cx="1347.50" cy="174.30" r="3.4" fill="#7320ba"/>
<text transform="translate(1374.80,182.00) scale(1.03,1)" text-anchor="start" font-size="23" >Scapularisin</text>
<line x1="1334.50" y1="207.50" x2="1360.50" y2="207.50" stroke="#a2661f" stroke-width="2.3" stroke-linecap="butt"/>
<circle cx="1347.50" cy="207.50" r="3.4" fill="#a2661f"/>
<text transform="translate(1374.80,215.20) scale(1.03,1)" text-anchor="start" font-size="23" >Microplusin</text>
<line x1="1334.50" y1="240.70" x2="1360.50" y2="240.70" stroke="#48de24" stroke-width="2.3" stroke-linecap="butt"/>
<circle cx="1347.50" cy="240.70" r="4.3" fill="#48de24"/>
<text transform="translate(1374.80,248.40) scale(1.03,1)" text-anchor="start" font-size="23" >Varisin A1</text>
</svg>
</body></html>
